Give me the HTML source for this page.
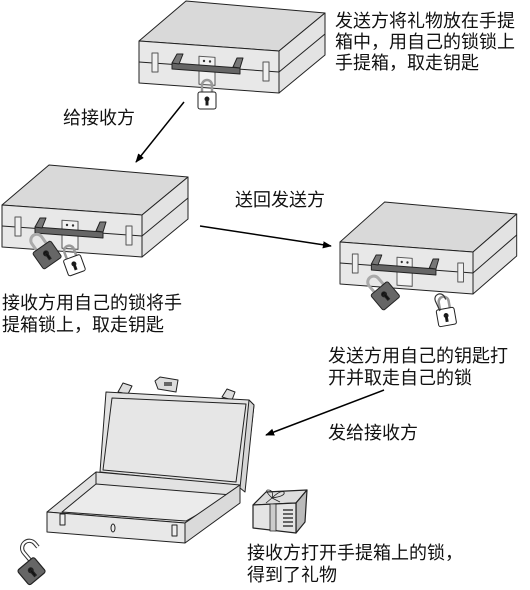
<!DOCTYPE html>
<html><head><meta charset="utf-8"><style>
html,body{margin:0;padding:0;background:#fff;width:530px;height:590px;overflow:hidden}
svg text{font-family:"Liberation Sans","Noto Sans CJK SC",sans-serif;font-size:18px;fill:#111}
</style></head><body>
<svg width="530" height="590" viewBox="0 0 530 590" xmlns="http://www.w3.org/2000/svg">
<defs>
<marker id="ah" viewBox="0 0 10 10" refX="9" refY="5" markerWidth="9" markerHeight="9" orient="auto" markerUnits="userSpaceOnUse">
<path d="M0,1 L10,5 L0,9 Z" fill="#000"/></marker>
<g id="case" stroke="#222" stroke-width="1" stroke-linejoin="round">
<polygon points="0,0 47,-40 186,-28 140,10" fill="#d9d9d9"/>
<polygon points="140,10 186,-28 186,14 140,52" fill="#e3e3e3"/>
<polygon points="0,0 140,10 140,52 0,42" fill="#e8e8e8"/>
<polyline points="0,21 140,31 186,-7" fill="none"/>
<rect x="60" y="11" width="16" height="28" fill="#f2f2f2" stroke="#555" transform="skewY(4)"/>
<circle cx="65" cy="20" r="1.2" fill="#333" stroke="none"/><circle cx="71" cy="20.5" r="1.2" fill="#333" stroke="none"/>
<polygon points="33,22 101,27 101,33 33,28" fill="#666"/>
<polygon points="33,22 38,13 44,13 40,23" fill="#777"/>
<polygon points="94,26 98,17 104,17 101,27" fill="#777"/>
<rect x="13" y="12" width="6" height="19" fill="#f0f0f0" stroke="#555"/>
<rect x="124" y="21" width="6" height="19" fill="#f0f0f0" stroke="#555"/>
</g>
<g id="lockW" stroke="#222" stroke-width="1">
<path d="M3,0 V-7 A5,5 0 0 1 13,-7 V0" fill="none" stroke="#999" stroke-width="2.5"/>
<rect x="-1" y="0" width="18" height="17" rx="2" fill="#fff"/>
<circle cx="8" cy="7" r="2" fill="#111"/><rect x="7" y="7" width="2" height="6" fill="#111"/>
</g>
<g id="lockD" stroke="#222" stroke-width="1">
<path d="M3,0 V-8 A6,6 0 0 1 15,-8 V0" fill="none" stroke="#aaa" stroke-width="3"/>
<rect x="-2" y="0" width="22" height="20" rx="2" fill="#666"/>
<circle cx="9" cy="8" r="2.5" fill="#111"/><rect x="8" y="8" width="2.4" height="7" fill="#111"/>
</g>
<g id="lockO" stroke="#222" stroke-width="1">
<path d="M13,0 V-8 A6,6 0 0 1 25,-8 V-4" fill="none" stroke="#333" stroke-width="3.5"/>
<path d="M13,0 V-8 A6,6 0 0 1 25,-8 V-4" fill="none" stroke="#fff" stroke-width="1.8"/>
<rect x="-1" y="0" width="18" height="17" rx="2" fill="#fff"/>
<circle cx="8" cy="7" r="2" fill="#111"/><rect x="7" y="7" width="2" height="6" fill="#111"/>
</g>
</defs>

<!-- case 1 -->
<use href="#case" transform="translate(139,41)"/>
<use href="#lockW" transform="translate(199,92)"/>
<!-- case 2 -->
<use href="#case" transform="translate(2,205)"/>
<use href="#lockD" transform="translate(34,252) rotate(-35)"/>
<use href="#lockW" transform="translate(64,260) rotate(-20)"/>
<!-- case 3 -->
<use href="#case" transform="translate(340,242) scale(0.95,1)"/>
<use href="#lockD" transform="translate(372,294) rotate(-40)"/>
<use href="#lockW" transform="translate(437,310) rotate(-10)"/>
<path d="M440,311 V300 A5,5 0 0 1 450,300 V303" fill="none" stroke="#333" stroke-width="1.2" transform="rotate(-25 440 311)"/>

<!-- open case -->
<g stroke="#222" stroke-width="1" stroke-linejoin="round">
<polygon points="118,392 123,383 132,386 128,394" fill="#ddd"/>
<polygon points="155,381 160,377 178,380 176,392 158,389" fill="#ddd"/>
<rect x="164" y="382" width="8" height="4" fill="#666" stroke="none"/>
<polygon points="222,397 227,389 235,392 232,400" fill="#ddd"/>
<polygon points="106,392 249,400 254,405 245,485 233,485 100,472" fill="#e2e2e2"/>
<polygon points="112,398 246,404 236,482 103,470" fill="#e6e6e6"/>
<polygon points="249,400 254,405 245,492 240,488" fill="#d6d6d6"/>
<polygon points="47,512 96,472 240,485 185,523" fill="#e2e2e2"/>
<polygon points="62,512 96,484 232,495 186,521" fill="#ebebeb"/>
<polyline points="96,472 96,484" fill="none"/>
<polygon points="185,523 240,485 240,503 185,543" fill="#dadada"/>
<polygon points="47,512 185,523 185,543 47,532" fill="#e8e8e8"/>
<rect x="60" y="514" width="5" height="11" fill="#eee"/>
<rect x="172" y="525" width="5" height="11" fill="#eee"/>
<ellipse cx="113" cy="528" rx="2" ry="4" fill="#eee"/>
</g>
<g transform="translate(18,570) rotate(-40) scale(1.2)" stroke="#222" stroke-width="1">
<path d="M13,0 V-8 A6,6 0 0 1 25,-8 V-4" fill="none" stroke="#333" stroke-width="3.5"/>
<path d="M13,0 V-8 A6,6 0 0 1 25,-8 V-4" fill="none" stroke="#fff" stroke-width="1.8"/>
<rect x="-1" y="0" width="18" height="16" rx="2" fill="#666"/>
<circle cx="8" cy="7" r="2" fill="#111"/><rect x="7" y="7" width="2" height="6" fill="#111"/>
</g>
<!-- gift -->
<g stroke="#222" stroke-width="1.2" stroke-linejoin="round">
<polygon points="253,505 266,492 307,490 296,503" fill="#ddd"/>
<polygon points="296,503 307,490 305,522 296,533" fill="#bbb"/>
<polygon points="253,505 296,503 296,533 253,528" fill="#e4e4e4"/>
<rect x="270" y="504" width="6" height="27" fill="#ccc" stroke-width="0.8"/>
<path d="M272,498 q-8,-8 -4,-8 q6,0 4,8 q8,-8 12,-6 q2,4 -12,6 M272,498 l-6,5 M272,498 l8,4" fill="none" stroke-width="0.8"/>
<g stroke-width="1.3"><line x1="283" y1="510" x2="293" y2="510"/><line x1="283" y1="514" x2="293" y2="514"/><line x1="283" y1="518" x2="293" y2="518"/><line x1="283" y1="522" x2="293" y2="522"/><line x1="283" y1="526" x2="293" y2="526"/></g>
</g>

<!-- arrows -->
<g stroke="#000" stroke-width="1.5" fill="none">
<line x1="184" y1="102" x2="136" y2="162" marker-end="url(#ah)"/>
<line x1="200" y1="226" x2="331" y2="246" marker-end="url(#ah)"/>
<line x1="384" y1="390" x2="266" y2="435" marker-end="url(#ah)"/>
</g>

<!-- text -->
<text x="335" y="27">发送方将礼物放在手提</text>
<text x="335" y="48">箱中，用自己的锁锁上</text>
<text x="335" y="69">手提箱，取走钥匙</text>
<text x="63" y="124">给接收方</text>
<text x="235" y="206">送回发送方</text>
<text x="2" y="309">接收方用自己的锁将手</text>
<text x="2" y="331">提箱锁上，取走钥匙</text>
<text x="328" y="362">发送方用自己的钥匙打</text>
<text x="328" y="384">开并取走自己的锁</text>
<text x="328" y="439">发给接收方</text>
<text x="247" y="559">接收方打开手提箱上的锁，</text>
<text x="247" y="581">得到了礼物</text>
</svg>
</body></html>
